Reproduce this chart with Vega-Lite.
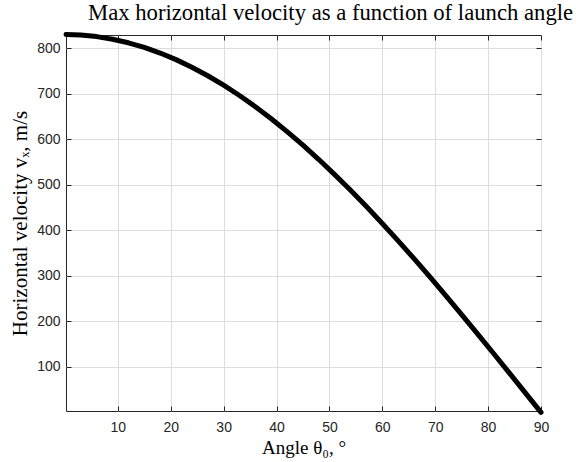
{
  "$schema": "https://vega.github.io/schema/vega-lite/v6.json",
  "width": 475,
  "height": 376,
  "autosize": {"type": "none"},
  "padding": {"left": 66, "top": 35, "right": 35, "bottom": 51},
  "background": "white",
  "title": {
    "text": "Max horizontal velocity as a function of launch angle",
    "font": "Liberation Serif",
    "fontSize": 22.7,
    "fontWeight": "normal",
    "color": "#000000",
    "anchor": "start",
    "frame": "group",
    "dx": 22,
    "offset": 7
  },
  "config": {
    "view": {"stroke": "#262626", "strokeWidth": 1}
  },
  "data": {
    "values": [
      {"angle": 0.2, "vx": 830.0},
      {"angle": 3, "vx": 828.9},
      {"angle": 6, "vx": 825.5},
      {"angle": 9, "vx": 819.8},
      {"angle": 12, "vx": 811.9},
      {"angle": 15, "vx": 801.7},
      {"angle": 18, "vx": 789.4},
      {"angle": 21, "vx": 774.9},
      {"angle": 24, "vx": 758.2},
      {"angle": 27, "vx": 739.5},
      {"angle": 30, "vx": 718.8},
      {"angle": 33, "vx": 696.1},
      {"angle": 36, "vx": 671.5},
      {"angle": 39, "vx": 645.0},
      {"angle": 42, "vx": 616.8},
      {"angle": 45, "vx": 586.9},
      {"angle": 48, "vx": 555.4},
      {"angle": 51, "vx": 522.3},
      {"angle": 54, "vx": 487.9},
      {"angle": 57, "vx": 452.1},
      {"angle": 60, "vx": 415.0},
      {"angle": 63, "vx": 376.8},
      {"angle": 66, "vx": 337.6},
      {"angle": 69, "vx": 297.4},
      {"angle": 72, "vx": 256.5},
      {"angle": 75, "vx": 214.8},
      {"angle": 78, "vx": 172.6},
      {"angle": 81, "vx": 129.8},
      {"angle": 84, "vx": 86.8},
      {"angle": 87, "vx": 43.4},
      {"angle": 90, "vx": 0.0}
    ]
  },
  "layer": [
    {
      "mark": {"type": "line", "color": "#000000", "strokeWidth": 5, "strokeCap": "round", "strokeJoin": "round", "clip": false},
      "encoding": {
        "x": {
          "field": "angle", "type": "quantitative",
          "scale": {"domain": [0.2, 90], "nice": false, "zero": false},
          "axis": {
            "values": [10, 20, 30, 40, 50, 60, 70, 80, 90],
            "title": "Angle θ₀, °",
            "titleFont": "Liberation Serif", "titleFontSize": 19, "titleFontWeight": "normal", "titleColor": "#000000",
            "titlePadding": 4,
            "labelFont": "Liberation Sans", "labelFontSize": 14, "labelColor": "#262626",
            "labelPadding": 14, "labelFlush": false,
            "tickSize": -5, "tickColor": "#262626",
            "domain": false,
            "grid": true, "gridColor": "#dcdcdc", "gridWidth": 1
          }
        },
        "y": {
          "field": "vx", "type": "quantitative",
          "scale": {"domain": [3, 829], "nice": false, "zero": false},
          "axis": {
            "values": [100, 200, 300, 400, 500, 600, 700, 800],
            "title": "Horizontal velocity vₓ, m/s",
            "titleFont": "Liberation Serif", "titleFontSize": 21, "titleFontWeight": "normal", "titleColor": "#000000",
            "titlePadding": 6,
            "labelFont": "Liberation Sans", "labelFontSize": 14, "labelColor": "#262626",
            "labelPadding": 11, "labelFlush": false,
            "tickSize": -5, "tickColor": "#262626",
            "domain": false,
            "grid": true, "gridColor": "#dcdcdc", "gridWidth": 1
          }
        }
      }
    },
    {
      "mark": {"type": "line", "opacity": 0},
      "encoding": {
        "x": {
          "field": "angle", "type": "quantitative",
          "axis": {"orient": "top", "values": [10, 20, 30, 40, 50, 60, 70, 80, 90], "labels": false, "title": null, "tickSize": -5, "tickColor": "#262626", "domain": false, "grid": false}
        },
        "y": {
          "field": "vx", "type": "quantitative",
          "axis": {"orient": "right", "values": [100, 200, 300, 400, 500, 600, 700, 800], "labels": false, "title": null, "tickSize": -5, "tickColor": "#262626", "domain": false, "grid": false}
        }
      }
    }
  ],
  "resolve": {"axis": {"x": "independent", "y": "independent"}}
}
